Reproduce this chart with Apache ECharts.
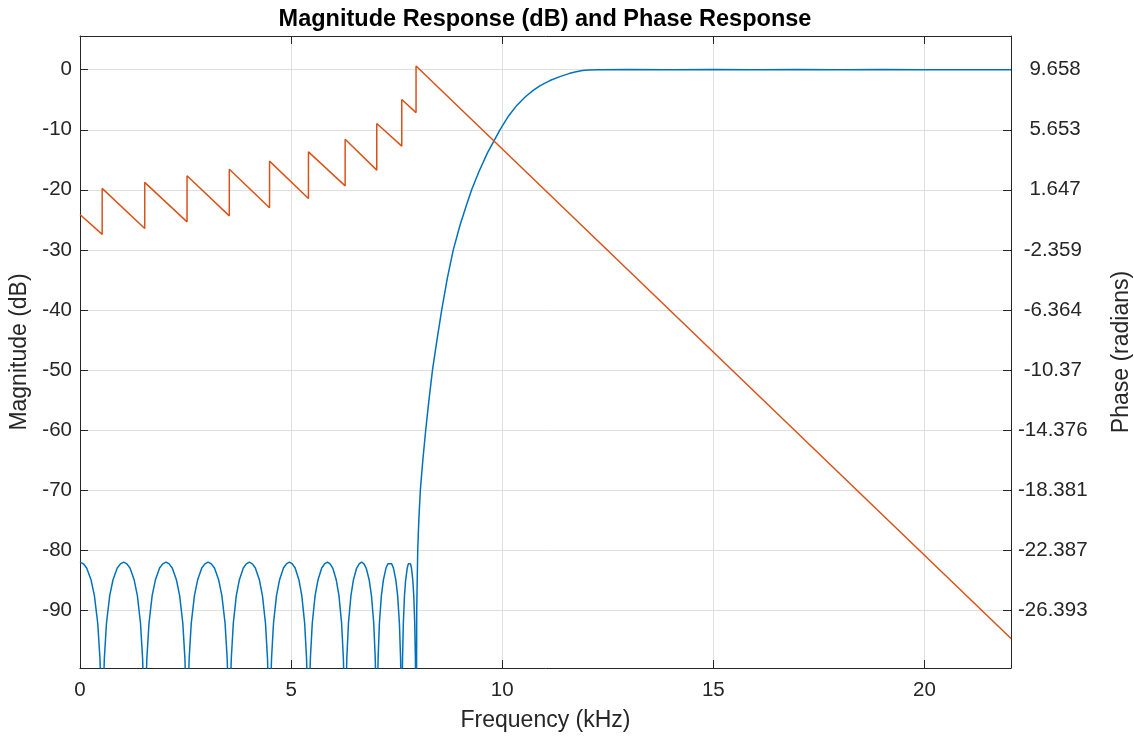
<!DOCTYPE html>
<html>
<head>
<meta charset="utf-8">
<script src="https://cdn.jsdelivr.net/npm/echarts@6/dist/echarts.min.js"></script>
<style>
html,body{margin:0;padding:0;background:#fff;}
#chart{width:1134px;height:741px;}
</style>
</head>
<body>
<div id="chart"></div>
<script>
// ---- Data ----
// Magnitude response: frequency (kHz) and magnitude (dB)
const magFreq = [
  0.000, 0.079, 0.158, 0.263, 0.341, 0.420, 0.473, 0.499, 0.525,
  0.551, 0.576, 0.627, 0.704, 0.780, 0.882, 0.959, 1.035,
  1.110, 1.184, 1.284, 1.359, 1.433, 1.483, 1.508, 1.533,
  1.558, 1.583, 1.634, 1.709, 1.785, 1.885, 1.961, 2.036,
  2.111, 2.185, 2.285, 2.360, 2.435, 2.485, 2.510, 2.535,
  2.560, 2.585, 2.635, 2.710, 2.785, 2.884, 2.959, 3.034,
  3.109, 3.185, 3.285, 3.360, 3.436, 3.486, 3.511, 3.536,
  3.560, 3.583, 3.631, 3.702, 3.773, 3.868, 3.939, 4.010,
  4.082, 4.153, 4.250, 4.321, 4.393, 4.441, 4.465, 4.489,
  4.513, 4.536, 4.583, 4.654, 4.725, 4.819, 4.890, 4.960,
  5.028, 5.096, 5.186, 5.253, 5.321, 5.366, 5.388, 5.411,
  5.433, 5.456, 5.501, 5.568, 5.636, 5.725, 5.793, 5.860,
  5.923, 5.986, 6.070, 6.133, 6.196, 6.238, 6.259, 6.280,
  6.300, 6.319, 6.358, 6.417, 6.475, 6.553, 6.612, 6.670,
  6.724, 6.778, 6.850, 6.903, 6.957, 6.993, 7.011, 7.029,
  7.045, 7.060, 7.091, 7.138, 7.185, 7.247, 7.293, 7.340,
  7.382, 7.424, 7.481, 7.523, 7.565, 7.593, 7.607, 7.621,
  7.630, 7.639, 7.658, 7.685, 7.713, 7.750, 7.777, 7.805,
  7.828, 7.851, 7.882, 7.905, 7.928, 7.944, 7.951, 7.959,
  7.975, 7.999, 8.025, 8.061, 8.120, 8.188, 8.265, 8.349, 8.455, 8.567,
  8.700, 8.841, 9.000, 9.150, 9.276, 9.450, 9.650, 9.850, 9.946,
  10.150, 10.350, 10.550, 10.733, 10.900, 11.130, 11.365, 11.600,
  11.750, 11.900, 12.050, 12.300, 13.000, 14.000, 15.000, 16.000,
  17.000, 18.000, 19.000, 20.000, 21.000, 22.050
];
const magDb = [
  -82.0, -82.3, -83.0, -85.0, -87.6, -92.2, -98.1, -104, -140,
  -104, -98.1, -92.2, -87.6, -85.0, -83.0, -82.3, -82.0,
  -82.3, -83.0, -85.0, -87.6, -92.2, -98.1, -104, -140,
  -104, -98.1, -92.2, -87.6, -85.0, -83.0, -82.3, -82.0,
  -82.3, -83.0, -85.0, -87.6, -92.2, -98.1, -104, -140,
  -104, -98.1, -92.2, -87.6, -85.0, -83.0, -82.3, -82.0,
  -82.3, -83.0, -85.0, -87.6, -92.2, -98.1, -104, -140,
  -104, -98.1, -92.2, -87.6, -85.0, -83.0, -82.3, -82.0,
  -82.3, -83.0, -85.0, -87.6, -92.2, -98.1, -104, -140,
  -104, -98.1, -92.2, -87.6, -85.0, -83.0, -82.3, -82.0,
  -82.3, -83.0, -85.0, -87.6, -92.2, -98.1, -104, -140,
  -104, -98.1, -92.2, -87.6, -85.0, -83.0, -82.3, -82.0,
  -82.3, -83.0, -85.0, -87.6, -92.2, -98.1, -104, -140,
  -104, -98.1, -92.2, -87.6, -85.0, -83.0, -82.3, -82.0,
  -82.3, -83.0, -85.0, -87.6, -92.2, -98.1, -104, -140,
  -104, -98.1, -92.2, -87.6, -85.0, -83.0, -82.3, -82.0,
  -82.3, -83.0, -85.0, -87.6, -92.2, -98.1, -104, -140,
  -104, -98.1, -92.2, -87.6, -85.0, -83.0, -82.3, -82.0,
  -82.3, -83.0, -85.0, -87.6, -92.2, -98.1, -104, -140,
  -90, -80, -75, -70, -65, -60, -55, -50, -45, -40,
  -34.7, -30, -25.9, -22.6, -20, -16.95, -13.85, -11.25, -10,
  -7.7, -5.9, -4.5, -3.45, -2.65, -1.8, -1.15, -0.6,
  -0.32, -0.12, -0.03, 0.0, 0.02, -0.02, 0.02, -0.02,
  0.02, -0.02, 0.02, -0.02, 0.01, 0.0
];
// Phase response: frequency (kHz) and phase (radians), polyline vertices
const phaseFreq = [
  0.000, 0.525, 0.525, 1.533, 1.533, 2.535, 2.535, 3.536, 3.536,
  4.489, 4.489, 5.411, 5.411, 6.280, 6.280, 7.029, 7.029,
  7.621, 7.621, 7.959, 7.959, 22.050
];
const phaseRad = [
  0.00, -1.33, 1.74, -0.93, 2.14, -0.49, 2.58, -0.09, 3.02,
  0.45, 3.56, 1.07, 4.18, 1.91, 5.02, 2.96, 6.07,
  4.56, 7.67, 6.80, 9.91, -28.29
];
// Tick labels
const magTicks = [0, -10, -20, -30, -40, -50, -60, -70, -80, -90];
const phaseTicks = [9.658, 5.653, 1.647, -2.359, -6.364, -10.37, -14.376, -18.381, -22.387, -26.393];
const freqTicks = [0, 5, 10, 15, 20];

const titleText = 'Magnitude Response (dB) and Phase Response';
const xName = 'Frequency (kHz)';
const yLeftName = 'Magnitude (dB)';
const yRightName = 'Phase (radians)';

// ---- Build ----
const magData = magFreq.map((f, i) => [f, magDb[i]]);
const phaseData = phaseFreq.map((f, i) => [f, phaseRad[i]]);

const FONT = '"Liberation Sans", Arial, Helvetica, sans-serif';
const AX = '#262626';
const GRID = '#dfdfdf';
const TICK_FS = 20.5;
const NAME_FS = 23;

const chart = echarts.init(document.getElementById('chart'), null, {renderer: 'canvas'});
chart.setOption({
  animation: false,
  backgroundColor: '#ffffff',
  title: {
    text: titleText,
    left: 540,
    top: 3,
    textAlign: 'center',
    textStyle: {fontFamily: FONT, fontSize: 23.5, fontWeight: 'bold', color: '#000'}
  },
  grid: {left: 80, right: 123, top: 36, bottom: 73, containLabel: false, outerBoundsMode: 'none'},
  xAxis: [{
    type: 'value', min: 0, max: 22.05, interval: 5, position: 'bottom',
    name: xName, nameLocation: 'middle', nameGap: 41,
    nameTextStyle: {fontFamily: FONT, fontSize: NAME_FS, color: AX},
    axisLine: {show: true, onZero: false, lineStyle: {color: AX, width: 1}},
    axisTick: {show: true, inside: true, length: 8, lineStyle: {color: AX}},
    axisLabel: {show: true, margin: 12, fontFamily: FONT, fontSize: TICK_FS, color: AX, showMaxLabel: false,
      formatter: v => (freqTicks.indexOf(v) >= 0 ? String(v) : '')},
    splitLine: {show: true, lineStyle: {color: GRID, width: 1}}
  }, {
    type: 'value', min: 0, max: 22.05, interval: 5, position: 'top',
    axisLine: {show: true, onZero: false, lineStyle: {color: AX, width: 1}},
    axisTick: {show: true, inside: true, length: 8, lineStyle: {color: AX}},
    axisLabel: {show: false},
    splitLine: {show: false}
  }],
  yAxis: [{
    type: 'value', min: -99.65, max: 5.62, splitNumber: 10, position: 'left',
    name: yLeftName, nameLocation: 'middle', nameGap: 39,
    nameTextStyle: {fontFamily: FONT, fontSize: NAME_FS, color: AX},
    axisLine: {show: true, onZero: false, lineStyle: {color: AX, width: 1}},
    axisTick: {show: true, inside: true, length: 8, lineStyle: {color: AX}},
    axisLabel: {show: true, margin: 8, fontFamily: FONT, fontSize: TICK_FS, color: AX,
      showMinLabel: false, showMaxLabel: false,
      formatter: v => (magTicks.indexOf(v) >= 0 ? String(v) : '')},
    splitLine: {show: true, lineStyle: {color: GRID, width: 1}}
  }, {
    type: 'value', min: -30.2585, max: 11.909, position: 'right',
    name: yRightName, nameLocation: 'middle', nameGap: 99,
    nameTextStyle: {fontFamily: FONT, fontSize: NAME_FS, color: AX},
    axisLine: {show: true, onZero: false, lineStyle: {color: AX, width: 1}},
    axisTick: {show: true, inside: true, length: 8, lineStyle: {color: AX}, customValues: phaseTicks},
    axisLabel: {show: true, margin: 7, fontFamily: FONT, fontSize: TICK_FS, color: AX, customValues: phaseTicks,
      formatter: v => String(v).padStart(7, ' ')},
    splitLine: {show: false}
  }],
  series: [{
    type: 'line', name: 'Magnitude', xAxisIndex: 0, yAxisIndex: 0,
    data: magData, showSymbol: false, symbol: 'none', smooth: false, clip: true,
    lineStyle: {color: '#0072BD', width: 1.5}
  }, {
    type: 'line', name: 'Phase', xAxisIndex: 0, yAxisIndex: 1,
    data: phaseData, showSymbol: false, symbol: 'none', smooth: false, clip: true,
    lineStyle: {color: '#D95319', width: 1.5}
  }]
});
</script>
</body>
</html>
